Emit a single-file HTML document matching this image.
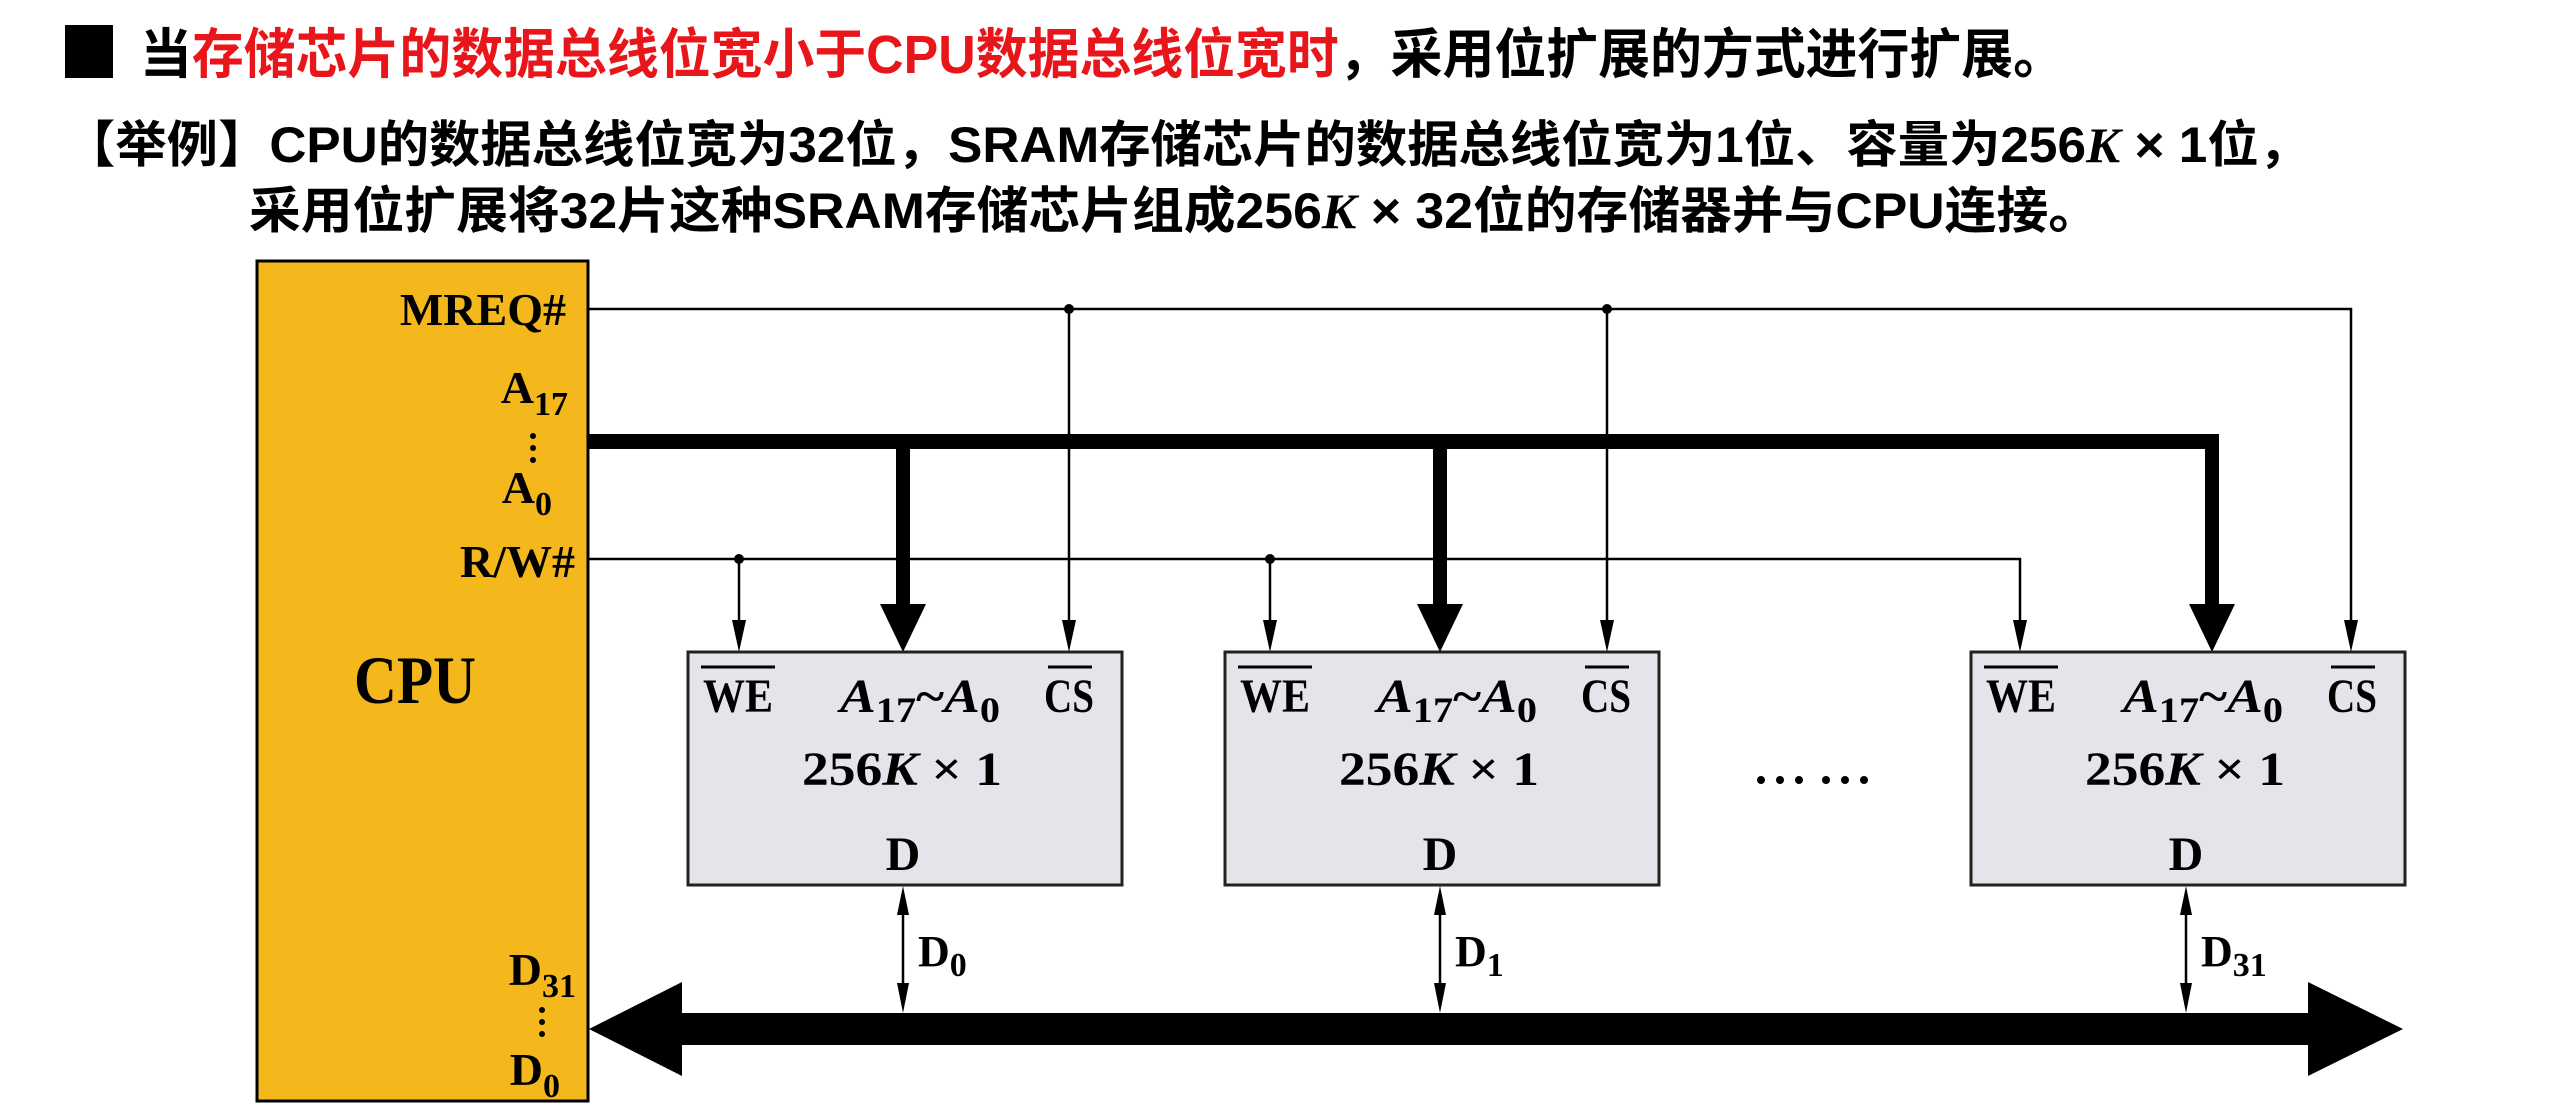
<!DOCTYPE html>
<html><head><meta charset="utf-8"><style>
html,body{margin:0;padding:0;background:#fff;}
svg{display:block;}
.cj{font-family:"Liberation Sans","Noto Sans CJK SC",sans-serif;font-weight:bold;}
.s{font-family:"Liberation Serif",serif;font-weight:bold;}
</style></head><body>
<svg width="2559" height="1109" viewBox="0 0 2559 1109" xmlns="http://www.w3.org/2000/svg">
<!-- titles -->
<rect x="65" y="25" width="48" height="53" fill="#000"/>
<text class="cj" x="140" y="73" font-size="54" textLength="1925" lengthAdjust="spacingAndGlyphs">当<tspan fill="#e8161b">存储芯片的数据总线位宽小于CPU数据总线位宽时</tspan>，采用位扩展的方式进行扩展。</text>
<text class="cj" x="64" y="162" font-size="50" textLength="2246" lengthAdjust="spacingAndGlyphs">【举例】CPU的数据总线位宽为32位，SRAM存储芯片的数据总线位宽为1位、容量为256<tspan font-family="Liberation Serif" font-style="italic">K</tspan> × 1位，</text>
<text class="cj" x="249" y="228" font-size="50" textLength="1851" lengthAdjust="spacingAndGlyphs">采用位扩展将32片这种SRAM存储芯片组成256<tspan font-family="Liberation Serif" font-style="italic">K</tspan> × 32位的存储器并与CPU连接。</text>

<!-- CPU -->
<rect x="257" y="261" width="331" height="840" fill="#f4b81c" stroke="#000" stroke-width="3"/>
<g class="s" font-size="46" text-anchor="end">
<text x="566" y="325">MREQ#</text>
<text x="568" y="403">A<tspan font-size="34" dy="12">17</tspan></text>
<text x="552" y="503">A<tspan font-size="34" dy="12">0</tspan></text>
<text x="575" y="577">R/W#</text>
<text x="576" y="985">D<tspan font-size="34" dy="12">31</tspan></text>
<text x="560" y="1085">D<tspan font-size="34" dy="12">0</tspan></text>
</g>
<g fill="#000"><circle cx="533" cy="436" r="3"/><circle cx="533" cy="448" r="3"/><circle cx="533" cy="460" r="3"/>
<circle cx="542" cy="1010" r="3"/><circle cx="542" cy="1022" r="3"/><circle cx="542" cy="1034" r="3"/></g>
<text class="s" x="415" y="703" font-size="68" text-anchor="middle" textLength="122" lengthAdjust="spacingAndGlyphs">CPU</text>

<!-- control lines -->
<g stroke="#000" stroke-width="2.5" fill="none">
<polyline points="588,309 2351,309 2351,620"/>
<polyline points="588,559 2020,559 2020,620"/>
<line x1="1069" y1="309" x2="1069" y2="620"/>
<line x1="1607" y1="309" x2="1607" y2="620"/>
<line x1="739" y1="559" x2="739" y2="620"/>
<line x1="1270" y1="559" x2="1270" y2="620"/>
</g>
<g fill="#000">
<path d="M1062,620 L1076,620 L1069,652 Z"/><path d="M1600,620 L1614,620 L1607,652 Z"/><path d="M2344,620 L2358,620 L2351,652 Z"/>
<path d="M732,620 L746,620 L739,652 Z"/><path d="M1263,620 L1277,620 L1270,652 Z"/><path d="M2013,620 L2027,620 L2020,652 Z"/>
<circle cx="1069" cy="309" r="5"/><circle cx="1607" cy="309" r="5"/>
<circle cx="739" cy="559" r="5"/><circle cx="1270" cy="559" r="5"/>
</g>
<!-- address bus -->
<g fill="#000">
<rect x="588" y="434" width="1631" height="15"/>
<rect x="896" y="434" width="14" height="172"/>
<rect x="1433" y="434" width="14" height="172"/>
<rect x="2205" y="434" width="14" height="172"/>
<path d="M880,604 L926,604 L903,652 Z"/>
<path d="M1417,604 L1463,604 L1440,652 Z"/>
<path d="M2189,604 L2235,604 L2212,652 Z"/>
</g>

<!-- chips -->
<g>
<rect x="688" y="652" width="434" height="233" fill="#e3e5eb" stroke="#222" stroke-width="3"/>
<rect x="1225" y="652" width="434" height="233" fill="#e3e5eb" stroke="#222" stroke-width="3"/>
<rect x="1971" y="652" width="434" height="233" fill="#e3e5eb" stroke="#222" stroke-width="3"/>
</g>
<g class="s" font-size="48" fill="#000">
<g id="c1">
<text x="703" y="712" textLength="70" lengthAdjust="spacingAndGlyphs">WE</text><line x1="701" y1="667" x2="775" y2="667" stroke="#000" stroke-width="3"/>
<text x="1044" y="712" textLength="50" lengthAdjust="spacingAndGlyphs">CS</text><line x1="1048" y1="667" x2="1092" y2="667" stroke="#000" stroke-width="3"/>
<text x="840" y="712" font-style="italic" textLength="160" lengthAdjust="spacingAndGlyphs">A<tspan font-style="normal" font-size="36" dy="10">17</tspan><tspan dy="-10" font-style="normal">~</tspan>A<tspan font-style="normal" font-size="36" dy="10">0</tspan></text>
<text x="802" y="785" textLength="200" lengthAdjust="spacingAndGlyphs">256<tspan font-style="italic">K</tspan> × 1</text>
<text x="903" y="870" text-anchor="middle">D</text>
</g>
<use href="#c1" x="537"/>
<use href="#c1" x="1283"/>
</g>
<!-- ellipsis -->
<g fill="#000"><circle cx="1761" cy="780" r="4"/><circle cx="1780" cy="780" r="4"/><circle cx="1799" cy="780" r="4"/><circle cx="1826" cy="780" r="4"/><circle cx="1845" cy="780" r="4"/><circle cx="1864" cy="780" r="4"/></g>

<!-- data bus -->
<path d="M589,1029 L682,982 L682,1013 L2308,1013 L2308,982 L2403,1029 L2308,1076 L2308,1045 L682,1045 L682,1076 Z" fill="#000"/>
<g stroke="#000" stroke-width="2.5">
<line x1="903" y1="915" x2="903" y2="983"/>
<line x1="1440" y1="915" x2="1440" y2="983"/>
<line x1="2186" y1="915" x2="2186" y2="983"/>
</g>
<g fill="#000">
<path d="M897,915 L909,915 L903,886 Z"/><path d="M897,983 L909,983 L903,1013 Z"/>
<path d="M1434,915 L1446,915 L1440,886 Z"/><path d="M1434,983 L1446,983 L1440,1013 Z"/>
<path d="M2180,915 L2192,915 L2186,886 Z"/><path d="M2180,983 L2192,983 L2186,1013 Z"/>
</g>
<g class="s" font-size="44">
<text x="918" y="966">D<tspan font-size="34" dy="10">0</tspan></text>
<text x="1455" y="966">D<tspan font-size="34" dy="10">1</tspan></text>
<text x="2201" y="966">D<tspan font-size="34" dy="10">31</tspan></text>
</g>
</svg>
</body></html>
